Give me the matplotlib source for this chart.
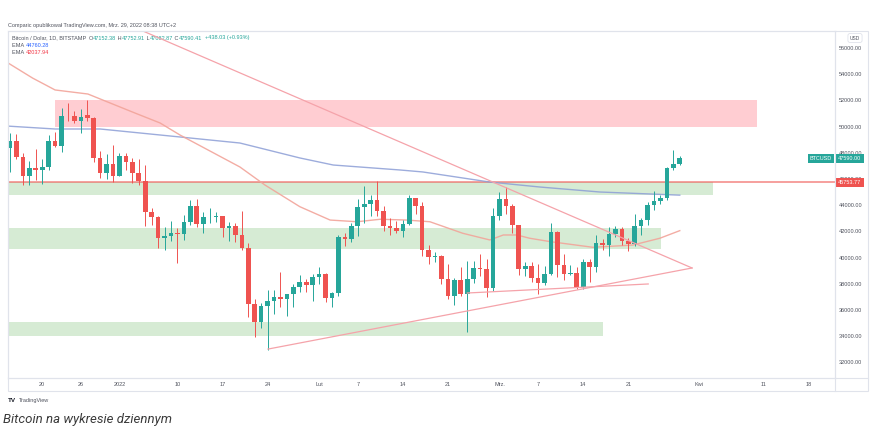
import numpy as np
import pandas as pd
import matplotlib
matplotlib.use('Agg')
import matplotlib.pyplot as plt
import matplotlib.transforms as mtransforms
from matplotlib.patches import Rectangle
from matplotlib.lines import Line2D

plt.rcParams['font.family'] = ['Liberation Sans', 'DejaVu Sans']

W, H = 875, 448

# ---- dane świecowe BTCUSD 1D ----
dates = pd.date_range('2021-12-15', '2022-03-29', freq='D')

opens = [48380, 48880, 47640, 46200, 46860, 46700, 46900, 48920, 48500, 50820, 50780, 50440, 50850, 50680, 47570, 46480, 47130,
         46210, 47740, 47310, 46440, 45830, 43440, 43100, 41520, 41680, 41850, 41820, 42740, 43920, 42580, 43080, 43130,
         43150, 42230, 42370, 41700, 40690, 36450, 35080, 36280, 36680, 36960, 36830, 37190, 37730, 38160, 37900,
         38490, 38730, 36900, 37300, 41600, 41400, 42420, 43860, 44080, 44420, 43520, 42380, 42220, 42060, 42540, 44580,
         43920, 40560, 40040, 40110, 38380, 37030, 38270, 37220, 38340, 39230, 39130, 37680,
         43180, 44440, 43940, 42460, 39160, 39380, 38400, 38050, 38740, 41970, 39440, 38730, 38830, 37780, 39650, 39300,
         41130, 40940, 41780, 42190, 41250, 41050, 42370, 42900, 43990, 44320, 44530, 46820, 47150]
highs = [49500, 49450, 47990, 47350, 48300, 47550, 49350, 49550, 51380, 51800, 51180, 51340, 52050, 50700, 48130, 47880, 48580,
         47950, 47990, 47560, 47500, 47070, 43750, 43140, 42300, 42800, 42250, 43250, 44400, 44450, 43450, 43800, 43480,
         43200, 42700, 42600, 43550, 41100, 36800, 36500, 37500, 37550, 38900, 37250, 38000, 38700, 38350, 38750,
         39250, 38850, 37400, 41700, 41900, 42600, 44500, 45460, 44800, 45850, 43900, 43000, 42750, 42850, 44750, 44580,
         44200, 40980, 40450, 40200, 39500, 38450, 39250, 39750, 39700, 40300, 39850, 43750,
         44980, 45360, 44100, 42500, 39650, 39650, 39500, 39350, 42600, 42050, 40250, 39450, 39300, 39900, 39900, 41700,
         41450, 42300, 42400, 42300, 41500, 43350, 43000, 44200, 45100, 44800, 46900, 48200, 47750]
lows = [46550, 47550, 45530, 45550, 45950, 45580, 46650, 48450, 48050, 50450, 50240, 49500, 50450, 47310, 46050, 45990, 45740,
        46200, 46650, 45700, 45500, 42430, 42450, 40700, 40550, 41280, 39600, 41300, 42450, 42320, 41850, 42600, 42680,
        41550, 41250, 41150, 40600, 35450, 33950, 34650, 32950, 35700, 36250, 35500, 36200, 37400, 37350, 36650,
        38000, 36600, 36250, 37050, 40900, 41150, 41650, 42670, 43200, 43200, 42000, 41750, 41850, 41580, 42450, 43350,
        40100, 39500, 39650, 38000, 36800, 36350, 37050, 34330, 38050, 38600, 37000, 37450,
        42850, 43350, 41850, 38700, 38600, 38100, 37200, 37900, 38650, 38550, 38250, 38650, 37600, 37600, 38150, 38900,
        40550, 40150, 41550, 40950, 40500, 40900, 41750, 42500, 43600, 44100, 44400, 46650, 47080]
closes = [48880, 47640, 46200, 46860, 46700, 46900, 48920, 48500, 50820, 50780, 50440, 50700, 50680, 47570, 46480, 47130, 46210,
          47740, 47310, 46440, 45830, 43440, 43100, 41520, 41680, 41850, 41820, 42740, 43920, 42580, 43080, 43130, 43150,
          42230, 42370, 41700, 40690, 36450, 35080, 36280, 36680, 36960, 36830, 37190, 37730, 38160, 37900, 38490,
          38730, 36900, 37300, 41540, 41400, 42420, 43860, 44080, 44420, 43520, 42380, 42220, 42060, 42540, 44580, 43920,
          40560, 40040, 40110, 38380, 37030, 38270, 37220, 38340, 39230, 39130, 37680, 43180,
          44440, 43940, 42460, 39160, 39380, 38400, 38050, 38740, 41970, 39440, 38730, 38830, 37780, 39650, 39300, 41130,
          40940, 41780, 42190, 41250, 41050, 42370, 42900, 43990, 44320, 44530, 46820, 47150, 47590]

# EMA (węzły: dzień od 15.12, cena)
ema_slow_day = [-0.3, 7.0, 14.0, 26.4, 35.7, 45.0, 50.2, 60.6, 64.1, 74.5, 82.3, 91.6, 104]
ema_slow_val = [50030, 49810, 49810, 49200, 48740, 47600, 47060, 46680, 46530, 45760, 45380, 45000, 44760]
ema_fast_day = [-0.3, 3.5, 7.0, 12.1, 19.4, 23.3, 26.4, 35.7, 39.6, 45.0, 49.7, 53.9, 57.5, 61.6, 65.2, 70.3,
                74.5, 76.6, 78.7, 80.7, 83.9, 90.5, 96.7, 100.9, 104]
ema_fast_val = [54850, 53700, 52790, 52480, 51030, 50270, 49350, 46910, 45530, 43880, 42860, 42730, 42920, 42860, 42730, 41850,
                41340, 41720, 41720, 41470, 41210, 40780, 40950, 41470, 42050]

# strefy: (start dzień, koniec dzień, dół, góra)
res_zone = (7.0, 116.0, 50000, 52000)
sup_zones = [(-2, 109.2, 44770, 45740),
             (-2, 101.1, 40630, 42230),
             (-2, 92.1, 34030, 35100)]
level_line = 45753.77

# linie trendu (dzień, cena)
trend_down = [(18.0, 57850), (105.9, 39200)]
trend_up = [(40.06, 33010), (105.9, 39200)]
trend_flat = [(71.0, 37290), (99.1, 37980)]

yticks = list(range(32000, 56001, 2000))
xtick_dates = ['2021-12-20', '2021-12-26', '2022-01-01', '2022-01-10', '2022-01-17', '2022-01-24', '2022-02-01',
               '2022-02-07', '2022-02-14', '2022-02-21', '2022-03-01', '2022-03-07', '2022-03-14', '2022-03-21',
               '2022-04-01', '2022-04-11', '2022-04-18']
xtick_labels = ['20', '26', '2022', '10', '17', '24', 'Lut', '7', '14', '21', 'Mrz.', '7', '14', '21', 'Kwi', '11', '18']

legend_parts = [('Bitcoin / Dolar, 1D, BITSTAMP  ', 'txt'), ('O', 'txt'), ('47152.38', 'up'), (' H', 'txt'),
                ('47752.91', 'up'), (' L', 'txt'), ('47082.87', 'up'), (' C', 'txt'), ('47590.41', 'up'),
                ('  +438.03 (+0.93%)', 'up')]

UP = '#26a69a'
DOWN = '#ef5350'
GRID = '#e0e3eb'
TXT = '#50535e'


def fx(px):
    return px / W


def fy(py):
    return 1 - py / H


fig = plt.figure(figsize=(W / 100, H / 100), dpi=100)
ax = fig.add_axes([fx(8), fy(378), fx(835) - fx(8), fy(31) - fy(378)])

x = np.arange(len(dates))
o = np.array(opens)
h = np.array(highs)
l = np.array(lows)
c = np.array(closes)
col = np.where(c >= o, UP, DOWN)

# strefy
ax.fill_between([res_zone[0], res_zone[1]], res_zone[2], res_zone[3], color='#ffcdd2', lw=0, zorder=0)
for z in sup_zones:
    ax.fill_between([z[0], z[1]], z[2], z[3], color='#d6ebd4', lw=0, zorder=0)
ax.axhline(level_line, color='#ef5350', lw=1.2, alpha=0.65, zorder=2)

# EMA
ax.plot(ema_slow_day, ema_slow_val, color='#8c9ed6', lw=1.0, alpha=0.85, zorder=2)
ax.plot(ema_fast_day, ema_fast_val, color='#f2a49a', lw=1.0, alpha=0.9, zorder=2)

# linie trendu
for tl in (trend_down, trend_up, trend_flat):
    ax.plot([p[0] for p in tl], [p[1] for p in tl], color='#f5a3aa', lw=0.9, zorder=4)

# świece
ax.vlines(x, l, h, colors=col, lw=0.7, zorder=3)
body = np.maximum(np.abs(c - o), 50)
ax.bar(x, body, bottom=np.minimum(o, c), width=0.72, color=col, lw=0, zorder=3)

ax.set_xlim(-0.31, 128.1)
ax.set_ylim(30802, 57291)

start = dates[0]
ax.set_xticks([(pd.Timestamp(d) - start).days for d in xtick_dates])
ax.set_xticklabels(xtick_labels)
ax.yaxis.tick_right()
ax.set_yticks(yticks)
ax.set_yticklabels([f'{v:.2f}' for v in yticks])
ax.tick_params(axis='both', length=0, labelsize=4, labelcolor=TXT)
ax.tick_params(axis='x', pad=3.2)
ax.tick_params(axis='y', pad=2.6)
for s in ax.spines.values():
    s.set_color(GRID)
    s.set_linewidth(0.8)

# znaczniki cen na osi
trans = mtransforms.blended_transform_factory(ax.transAxes, ax.transData)
ax.text(1.004, closes[-1], f'{closes[-1]:.2f}', transform=trans, ha='left', va='center', fontsize=4,
        color='white', bbox=dict(boxstyle='square,pad=0.35', fc=UP, ec='none'), clip_on=False, zorder=6)
ax.text(0.9965, closes[-1], 'BTCUSD', transform=trans, ha='right', va='center', fontsize=4,
        color='white', bbox=dict(boxstyle='square,pad=0.35', fc=UP, ec='none'), zorder=6)
ax.text(1.004, level_line, f'{level_line:.2f}', transform=trans, ha='left', va='center', fontsize=4,
        color='white', bbox=dict(boxstyle='square,pad=0.35', fc=DOWN, ec='none'), clip_on=False, zorder=6)

# ramka
fig.add_artist(Rectangle((fx(8), fy(391)), fx(868) - fx(8), fy(31) - fy(391), transform=fig.transFigure,
                         fill=False, ec=GRID, lw=0.8))
fig.add_artist(Line2D([fx(8), fx(868)], [fy(378), fy(378)], color=GRID, lw=0.8))
fig.add_artist(Line2D([fx(835), fx(835)], [fy(31), fy(391)], color=GRID, lw=0.8))
fig.text(fx(855), fy(38), 'USD', fontsize=3.5, color=TXT, ha='center', va='center',
         bbox=dict(boxstyle='round,pad=0.4', fc='white', ec=GRID, lw=0.6))

# nagłówki
fig.text(fx(8), fy(25), 'Comparic opublikował TradingView.com, Mrz. 29, 2022 08:38 UTC+2',
         fontsize=4, color=TXT, va='center')

palette = {'txt': TXT, 'up': UP}
prev = fig.text(fx(12), fy(38), legend_parts[0][0], fontsize=4, color=palette[legend_parts[0][1]], va='center')
for s, key in legend_parts[1:]:
    prev = ax.annotate(s, xy=(1, 0.5), xycoords=prev, fontsize=4, color=palette[key],
                       va='center', ha='left', annotation_clip=False)

e1 = fig.text(fx(12), fy(45.5), 'EMA ', fontsize=4, color=TXT, va='center')
ax.annotate('44760.28', xy=(1, 0.5), xycoords=e1, fontsize=4, color='#2962ff', va='center', annotation_clip=False)
e2 = fig.text(fx(12), fy(53), 'EMA ', fontsize=4, color=TXT, va='center')
ax.annotate('42037.94', xy=(1, 0.5), xycoords=e2, fontsize=4, color='#f23645', va='center', annotation_clip=False)

# logo + podpis
fig.text(fx(8), fy(400), 'TV', fontsize=4.5, color='#131722', weight='bold', va='center')
fig.text(fx(19), fy(400), 'TradingView', fontsize=4, color=TXT, va='center')
fig.text(fx(3), fy(419), 'Bitcoin na wykresie dziennym', fontsize=9.5, color='#3a3a3a', va='center',
         family='Roboto', style='italic')

fig.savefig('out.png', dpi=100, facecolor='white')
